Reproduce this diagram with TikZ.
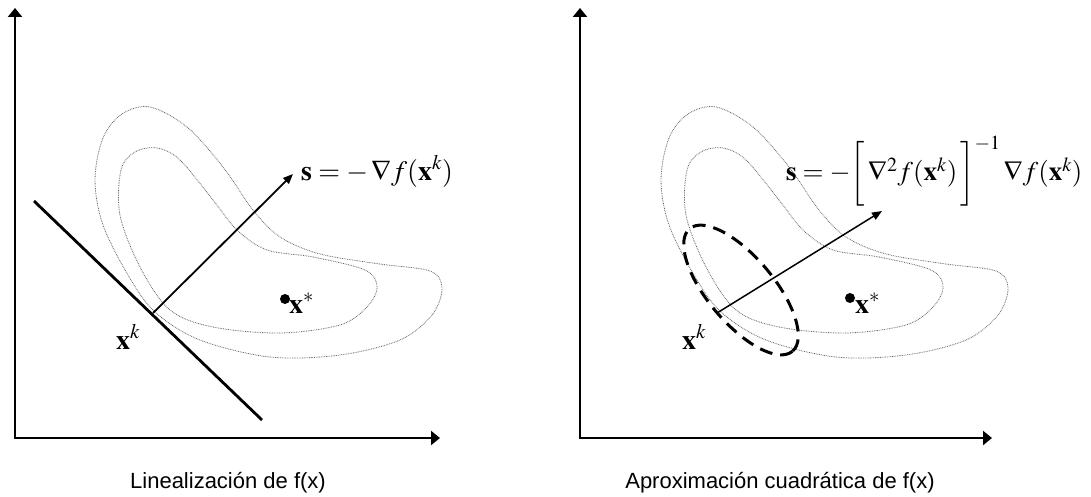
\documentclass[tikz,border=0pt]{standalone}
\usepackage{mathptmx}
\usepackage{fontspec}
\setmainfont{Liberation Serif}
\newfontfamily\capfont{Liberation Sans}
\usetikzlibrary{arrows.meta}
\begin{document}
\begin{tikzpicture}[x=1pt,y=-1pt,
  axisline/.style={line width=2.6pt, line join=miter,
    {Triangle[length=9pt,width=14pt]}-{Triangle[length=9pt,width=14pt]}},
  tangent/.style={line width=2.8pt},
  dirarrow/.style={line width=1.8pt, -{Triangle[length=10pt,width=8pt]}},
  contour/.style={line width=0.8pt, black!60, dash pattern=on 0.8pt off 0.9pt},
  ellipsedash/.style={line width=3pt, dash pattern=on 13pt off 8pt},
  mathlabel/.style={inner sep=0pt, font=\fontsize{28}{32}\selectfont},
  caption/.style={inner sep=0pt, font=\capfont\fontsize{22}{26}\selectfont},
  optdot/.style={circle, fill=black, inner sep=0pt, minimum size=10pt}
]
\useasboundingbox (0,0) rectangle (1091,497);

% ---------------- left panel ----------------
\coordinate (Ly) at (15,8);
\coordinate (Lo) at (15,438);
\coordinate (Lx) at (440,438);
\draw[axisline] (Ly) -- (Lo) -- (Lx);

\newcommand{\outercontour}{%
  plot[smooth cycle, tension=0.55] coordinates {(150,107) (187,127) (223,167) (253,210) (280,237) (320,254) (380,264) (430,271) (442,288) (432,315) (400,340) (340,355) (270,357) (200,340) (155,312) (128,275) (103,225) (95,180) (103,138) (122,114)}}
\newcommand{\innercontour}{%
  plot[smooth cycle, tension=0.55] coordinates {(157,148) (180,160) (213,200) (237,230) (267,250) (313,257) (365,270) (377,287) (367,307) (340,325) (280,333) (213,327) (170,310) (140,267) (120,215) (121,170) (135,152)}}

\draw[contour] \outercontour;
\draw[contour] \innercontour;

\coordinate (Lt1) at (34,201);
\coordinate (Lt2) at (262,420);
\draw[tangent] (Lt1) -- (Lt2);

\coordinate (Lxk) at (153,313);
\coordinate (Ls) at (293,174);
\draw[dirarrow] (Lxk) -- (Ls);

\node[mathlabel, anchor=base west] (Lslabel) at (301,180) {$\mathbf{s}=-\,\nabla f(\mathbf{x}^k)$};
\node[mathlabel, anchor=base west] (Lxklabel) at (116,349) {$\mathbf{x}^k$};
\node[optdot] (Ldot) at (285,299) {};
\node[mathlabel, anchor=base west] (Lxslabel) at (289,313) {$\mathbf{x}^*$};

\node[caption] (Lcap) at (228,483) {Linealización de f(x)};

% ---------------- right panel ----------------
\coordinate (Ry) at (580,8);
\coordinate (Ro) at (580,438);
\coordinate (Rx) at (992,438);
\draw[axisline] (Ry) -- (Ro) -- (Rx);

\begin{scope}[xshift=566pt]
\draw[contour] \outercontour;
\draw[contour] \innercontour;
\end{scope}

\coordinate (Ec) at (741,290);
\draw[ellipsedash, rotate around={-50:(Ec)}] (Ec) ellipse [x radius=80, y radius=33];

\coordinate (Rxk) at (717,313);
\coordinate (Rs) at (882,211);
\draw[dirarrow, line width=1.5pt] (Rxk) -- (Rs);

\node[mathlabel, anchor=base west, font=\fontsize{27}{31}\selectfont] (Rslabel) at (786,181) {$\mathbf{s}=-\bigg[\,\nabla^2 f(\mathbf{x}^k)\,\bigg]^{-1}\,\nabla f(\mathbf{x}^k)$};
\node[mathlabel, anchor=base west] (Rxklabel) at (682,349) {$\mathbf{x}^k$};
\node[optdot] (Rdot) at (850,298) {};
\node[mathlabel, anchor=base west] (Rxslabel) at (855,313) {$\mathbf{x}^*$};

\node[caption] (Rcap) at (780,483) {Aproximación cuadrática de f(x)};
\end{tikzpicture}
\end{document}
